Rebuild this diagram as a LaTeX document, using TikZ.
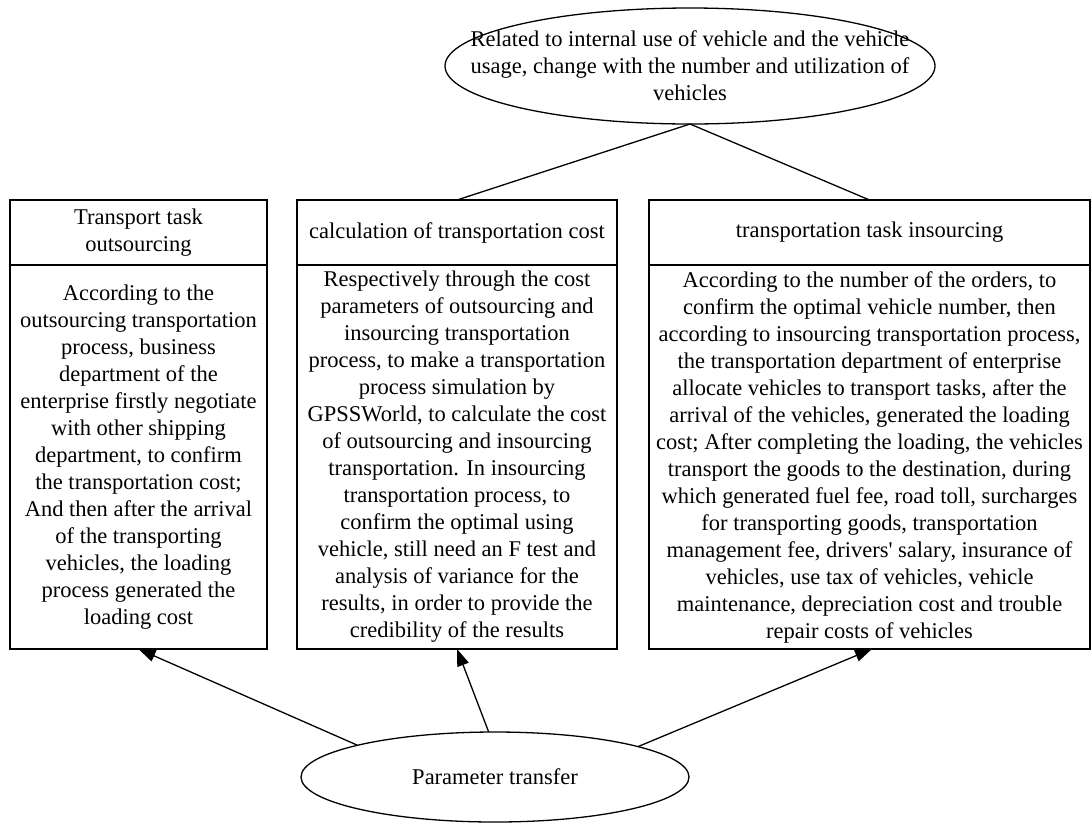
\documentclass[tikz,border=0pt]{standalone}
\usepackage{fontspec}
\setmainfont{Liberation Serif}
\usetikzlibrary{shapes.geometric,arrows.meta}
\begin{document}
\begin{tikzpicture}[x=1pt,y=-1pt,
  every node/.style={font=\fontsize{22.5pt}{27pt}\selectfont, inner sep=0pt, outer sep=0pt},
  boxpart/.style={draw, line width=1.3pt, rectangle, align=center, anchor=north},
  oval/.style={draw, line width=1.3pt, ellipse, align=center},
  link/.style={line width=1.3pt},
  arrowlink/.style={line width=1.3pt, -{Triangle[length=17pt,width=12pt]}}
]
\useasboundingbox (0,0) rectangle (1091,823);

% top ellipse
\node[oval, minimum width=490pt, minimum height=116pt] (top) at (690,66) {};
\node[align=center] (toptext) at (690,66) {Related to internal use of vehicle and the vehicle\\usage, change with the number and utilization of\\vehicles};

% left box
\node[boxpart, minimum width=257pt, minimum height=65pt] (lh) at (138.5,200) {Transport task\\outsourcing};
\node[boxpart, minimum width=257pt, minimum height=384pt] (lb) at (lh.south) {According to the\\outsourcing transportation\\process, business\\department of the\\enterprise firstly negotiate\\with other shipping\\department, to confirm\\the transportation cost;\\And then after the arrival\\of the transporting\\vehicles, the loading\\process generated the\\loading cost};

% middle box
\node[boxpart, minimum width=320pt, minimum height=65pt] (mh) at (457,200) {calculation of transportation cost};
\node[boxpart, minimum width=320pt, minimum height=384pt] (mb) at (mh.south) {Respectively through the cost\\parameters of outsourcing and\\insourcing transportation\\process, to make a transportation\\process simulation by\\GPSSWorld, to calculate the cost\\of outsourcing and insourcing\\transportation. In insourcing\\transportation process, to\\confirm the optimal using\\vehicle, still need an F test and\\analysis of variance for the\\results, in order to provide the\\credibility of the results};

% right box
\node[boxpart, minimum width=441pt, minimum height=65pt] (rh) at (869.5,200) {transportation task insourcing};
\node[boxpart, minimum width=441pt, minimum height=384pt] (rb) at (rh.south) {According to the number of the orders, to\\confirm the optimal vehicle number, then\\according to insourcing transportation process,\\the transportation department of enterprise\\allocate vehicles to transport tasks, after the\\arrival of the vehicles, generated the loading\\cost; After completing the loading, the vehicles\\transport the goods to the destination, during\\which generated fuel fee, road toll, surcharges\\for transporting goods, transportation\\management fee, drivers\textquotesingle\ salary, insurance of\\vehicles, use tax of vehicles, vehicle\\maintenance, depreciation cost and trouble\\repair costs of vehicles};

% bottom ellipse
\node[oval, minimum width=388pt, minimum height=90pt] (pt) at (495,777) {Parameter transfer};

% connectors
\draw[link] (top.south) -- (mh.north);
\draw[link] (top.south) -- (rh.north);
\draw[arrowlink] (pt.167.5) -- (lb.south);
\draw[arrowlink] (pt.98.5) -- (mb.south);
\draw[arrowlink] (pt.12.4) -- ([xshift=2.5pt]rb.south);
\end{tikzpicture}
\end{document}
